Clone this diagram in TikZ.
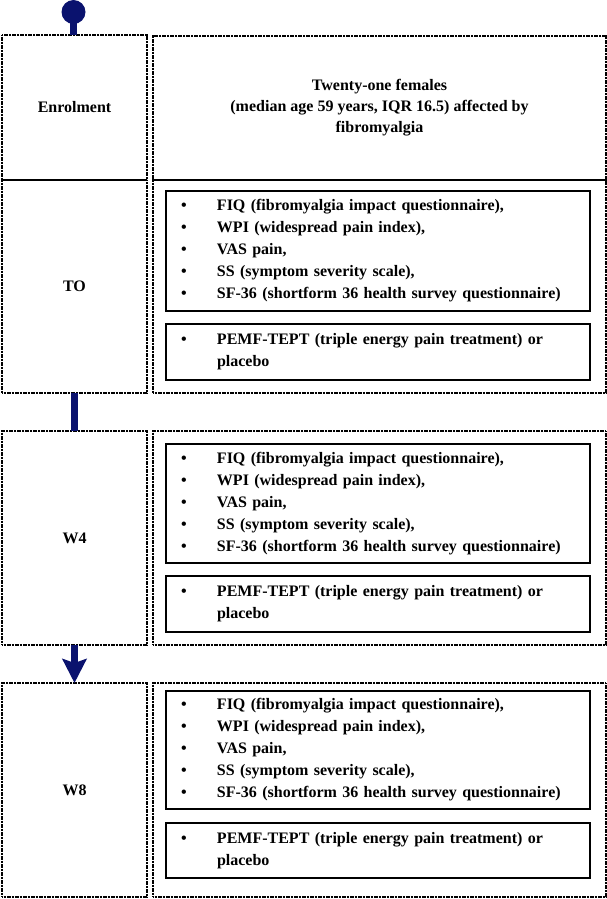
\documentclass[tikz,border=0pt]{standalone}
\usepackage{fontspec}
\setmainfont{Liberation Serif}
\usetikzlibrary{arrows.meta}
\definecolor{navy}{RGB}{10,18,110}
\tikzset{
  outerbox/.style={draw, line width=1.5pt, dash pattern=on 1.2pt off 0.4pt, inner sep=0pt, outer sep=0pt, minimum width=145pt},
  rightbox/.style={draw, line width=1.5pt, dash pattern=on 1.2pt off 0.4pt, inner sep=0pt, outer sep=0pt, minimum width=453pt},
  innerbox/.style={draw, line width=2pt, inner xsep=14pt, inner ysep=0pt, outer sep=0pt, minimum width=424pt, text width=396pt, align=left, font=\bfseries\fontsize{16}{22}\selectfont},
  lbl/.style={font=\bfseries\fontsize{16}{21}\selectfont, align=center},
  flow/.style={navy, line width=7pt},
}
\newcommand\bul{\makebox[37pt][l]{\hspace*{1pt}•}}
\newcommand\measures{\bul FIQ (fibromyalgia impact questionnaire),\\
\bul WPI (widespread pain index),\\
\bul VAS pain,\\
\bul SS (symptom severity scale),\\
\bul SF-36 (shortform 36 health survey questionnaire)}
\newcommand\treat{\bul PEMF-TEPT (triple energy pain treatment) or\\\hspace*{37pt}placebo}
\begin{document}
\begin{tikzpicture}[x=1pt,y=-1pt]
\useasboundingbox (0,0) rectangle (607,899);
% Enrolment
\node[outerbox, minimum height=145pt, lbl] (enrL) at (74.5,107.5) {Enrolment};
\node[rightbox, minimum height=144pt, lbl] (enrR) at (379.5,108) {Twenty-one females\\(median age 59 years, IQR 16.5) affected by\\fibromyalgia};
% T0
\node[outerbox, minimum height=213pt, lbl] (t0L) at (74.5,286.5) {TO};
\node[rightbox, minimum height=213pt] (t0R) at (379.5,286.5) {};
\node[innerbox, minimum height=120pt] (t0a) at (378,251) {\measures};
\node[innerbox, minimum height=56pt] (t0b) at (378,352) {\treat};
% W4
\node[outerbox, minimum height=214pt, lbl] (w4L) at (74.5,538) {W4};
\node[rightbox, minimum height=214pt] (w4R) at (379.5,538) {};
\node[innerbox, minimum height=119pt] (w4a) at (378,503.5) {\measures};
\node[innerbox, minimum height=56pt] (w4b) at (378,604) {\treat};
% W8
\node[outerbox, minimum height=214pt, lbl] (w8L) at (74.5,790) {W8};
\node[rightbox, minimum height=214pt] (w8R) at (379.5,790) {};
\node[innerbox, minimum height=118pt] (w8a) at (378,750) {\measures};
\node[innerbox, minimum height=55pt] (w8b) at (378,850.5) {\treat};
% connectors
\node[circle, fill=navy, minimum size=24pt, inner sep=0pt] (start) at (73.5,12) {};
\draw[flow] (start.center) -- (start |- enrL.north);
\draw[flow] (t0L.south) -- (w4L.north);
\draw[flow, -{Stealth[width=24pt, length=24pt, inset=4pt]}] (w4L.south) -- (w8L.north);
\end{tikzpicture}
\end{document}
